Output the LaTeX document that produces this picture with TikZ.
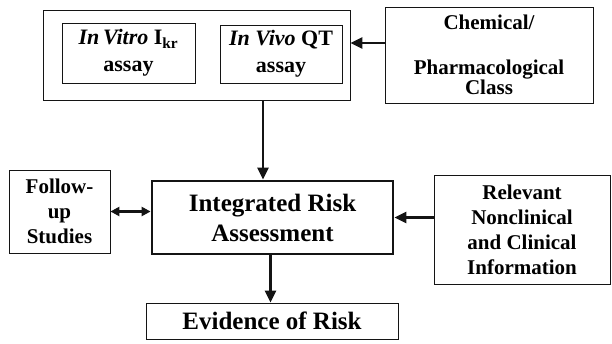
\documentclass[tikz,border=0pt]{standalone}
\usepackage{fontspec}
\setmainfont{Liberation Serif}
\usepackage{xcolor}
\definecolor{Ink}{RGB}{20,20,20}
\usepackage{tikz}
\usetikzlibrary{arrows.meta}
\tikzstyle{Box}=[draw=Ink,line width=0.8pt,align=center,
inner sep=0pt,font=\bfseries\fontsize{21}{25}\selectfont]
\tikzstyle{BigBox}=[Box,line width=2.8pt,font=\bfseries\fontsize{25}{30}\selectfont]
\tikzstyle{Edge}=[draw=Ink,line width=2.6pt,
-{Triangle[length=12pt,width=11pt]}]
\tikzstyle{Edges}=[Edge,{Triangle[length=9pt,width=9pt]}-{Triangle[length=9pt,width=9pt]}]
\begin{document}
\begin{tikzpicture}[x=1pt,y=-1pt]
            \useasboundingbox(0,0)rectangle(612,343);
            \node[Box,minimum width=307pt,minimum height=90pt](panel)
                at(196.5,55.0){};
            \node[Box,minimum width=133pt,minimum height=60pt,
                font=\bfseries\fontsize{22}{27}\selectfont](vitro)
                at(128.5,53.0){\textit{In\,Vitro} I\textsubscript{kr}\\assay};
            \node[Box,minimum width=122pt,minimum height=58pt,
                font=\bfseries\fontsize{22}{27}\selectfont](vivo)
                at(281.0,54.0){\textit{In Vivo} QT\\assay};
            \node[Box,minimum width=208pt,minimum height=96pt,
                font=\bfseries\fontsize{21}{19}\selectfont](chem)
                at(489.0,55.0){Chemical/\\[26pt]Pharmacological\\Class};
            \node[BigBox,minimum width=241pt,minimum height=73pt](risk)
                at(272.5,217.5){Integrated Risk\\Assessment};
            \node[Box,minimum width=101pt,minimum height=83pt](follow)
                at(59.5,211.5){Follow-\\up\\Studies};
            \node[Box,minimum width=176pt,minimum height=109pt](info)
                at(522.0,229.5){Relevant\\Nonclinical\\and Clinical\\Information};
            \node[Box,minimum width=252pt,minimum height=36pt,
                font=\bfseries\fontsize{25}{30}\selectfont](risky)
                at(272.0,321.0){Evidence of Risk};
            \draw[Edge]([yshift=12pt]chem.west)--([yshift=12pt]panel.east);
            \draw[Edge]([xshift=66.5pt]panel.south)--([xshift=-9.5pt]risk.north);
            \draw[Edges](follow.east)--(follow.east-|risk.west);
            \draw[Edge](info.west|-risk.east)--(risk.east);
            \draw[Edge]([xshift=-2pt]risk.south)--([xshift=-2pt]risk.south|-risky.north);
        \end{tikzpicture}
\end{document}
